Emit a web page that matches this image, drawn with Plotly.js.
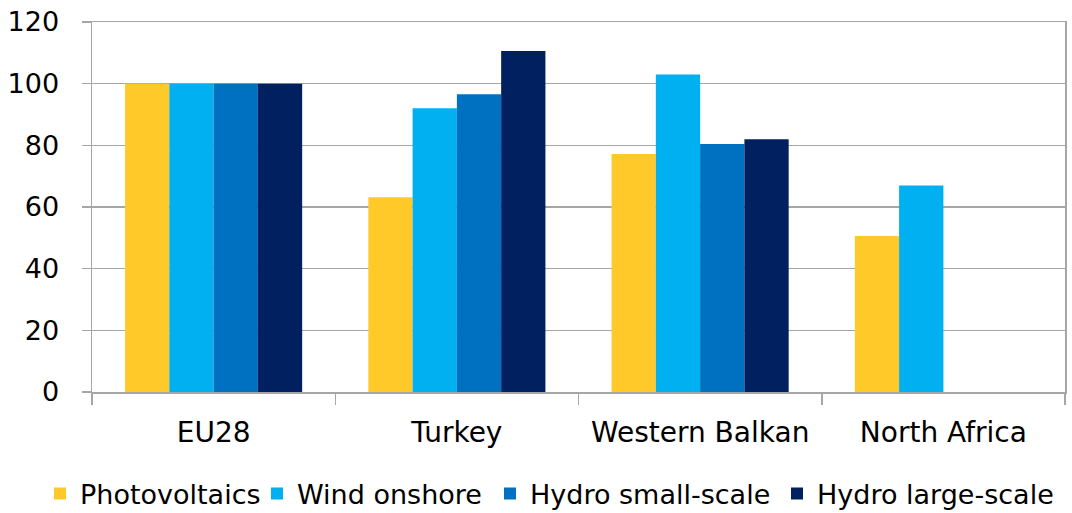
<!DOCTYPE html>
<html>
<head>
<meta charset="utf-8">
<script src="https://cdn.plot.ly/plotly-3.0.1.min.js"></script>
<style>html,body{margin:0;padding:0;background:#fff;}#chart{width:1072px;height:513px;}</style>
</head>
<body>
<div id="chart"></div>
<script>
const categories = ["EU28", "Turkey", "Western Balkan", "North Africa"];
const photovoltaics = [100, 63.2, 77.2, 50.6];
const windOnshore = [100, 92, 103, 67];
const hydroSmall = [100, 96.6, 80.4, null];
const hydroLarge = [100, 110.6, 82, null];
const seriesNames = ["Photovoltaics", "Wind onshore", "Hydro small-scale", "Hydro large-scale"];
const seriesColors = ["#FFCA29", "#00B0F0", "#0070C0", "#002060"];
const yTicks = [0, 20, 40, 60, 80, 100, 120];

const seriesValues = [photovoltaics, windOnshore, hydroSmall, hydroLarge];
const legendIds = ["legend", "legend2", "legend3", "legend4"];
const traces = seriesValues.map((vals, i) => ({
  type: "bar",
  x: categories,
  y: vals,
  name: seriesNames[i],
  legend: legendIds[i],
  marker: {color: seriesColors[i]}
}));

const font = "DejaVu Sans, Verdana, sans-serif";
// legend text start positions (px) in the page
const legendTextX = [80, 297, 530, 817];
const plotL = 92, plotW = 1072 - 92 - 7;

const layout = {
  width: 1072, height: 513,
  margin: {l: 92, r: 7, t: 22, b: 121, autoexpand: false},
  paper_bgcolor: "#fff", plot_bgcolor: "#fff",
  barmode: "group", bargap: 0.272, bargroupgap: 0,
  font: {family: font, color: "#000"},
  xaxis: {
    type: "category",
    tickson: "boundaries",
    ticks: "outside", ticklen: 11, tickcolor: "#a6a6a6", tickwidth: 1.5,
    showline: true, linecolor: "#a6a6a6", linewidth: 1.5, mirror: true,
    tickfont: {size: 28, family: font},
    ticklabelstandoff: 15,
    showgrid: false, automargin: false
  },
  yaxis: {
    range: [0, 120],
    tickvals: yTicks,
    ticks: "outside", ticklen: 9, tickcolor: "#a6a6a6", tickwidth: 1.5,
    showline: true, linecolor: "#a6a6a6", linewidth: 1.5, mirror: true,
    gridcolor: "#a6a6a6", gridwidth: 1.5,
    tickfont: {size: 27, family: font},
    ticklabelstandoff: 17,
    zeroline: false, automargin: false
  },
  showlegend: true
};
legendIds.forEach((id, i) => {
  layout[id] = {
    orientation: "h",
    xref: "paper", x: (legendTextX[i] - 40 - plotL) / plotW, xanchor: "left",
    yref: "container", y: 1 - 494 / 513, yanchor: "middle",
    font: {size: 27, family: font},
    itemwidth: 30,
    bgcolor: "rgba(0,0,0,0)"
  };
});

Plotly.newPlot("chart", traces, layout, {staticPlot: true});
</script>
</body>
</html>
